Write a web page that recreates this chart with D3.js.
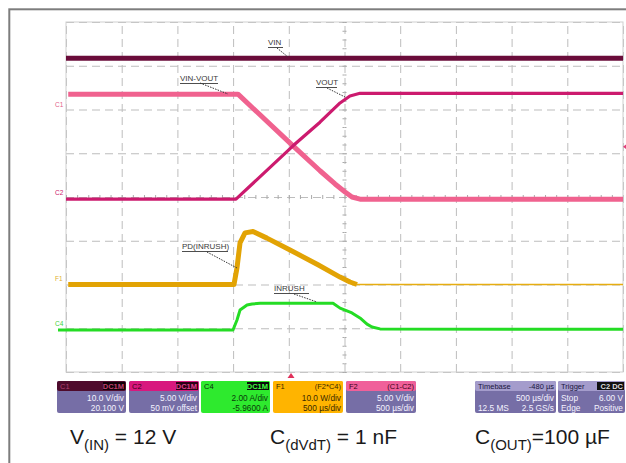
<!DOCTYPE html>
<html><head><meta charset="utf-8">
<script src="https://cdn.jsdelivr.net/npm/d3@7"></script>
<style>body{margin:0;background:#fff;} svg{display:block;font-family:"Liberation Sans",Arial,sans-serif;}</style>
</head><body><svg id="c" width="626" height="463"></svg>
<script>
// ---------- DATA (time in µs, trigger at 0; values in channel units) ----------
const vinTime = [-2020, 2980];
const vinValue = [12.0, 12.0];                       // V (C1)
const vinVoutTime = [-2000, -476, 18, 260, 395, 485, 547, 619, 2980];
const vinVoutValue = [12.0, 12.0, 6.1, 3.25, 1.74, 0.82, 0.25, 0, 0];   // V (F2 = C1-C2)
const voutTime = [-2020, -494, 18, 260, 440, 529, 619, 2980];
const voutValue = [0, 0, 6.1, 8.8, 11.0, 11.8, 12.1, 12.1];            // V (C2)
const pdTime = [-2000, -512, -485, -458, -413, -341, -216, -9, 242, 440, 529, 592];
const pdValue = [0, 0, 3.8, 9.5, 11.8, 12.1, 10.6, 7.9, 4.5, 1.7, 0.57, 0]; // W (F1)
const pdTailTime = [592, 2980];
const pdTailValue = [0, 0];
const inrushTime = [-2092, -521, -485, -458, -395, -350, -278, 377, 440, 547, 619, 682, 727, 799, 2980];
const inrushValue = [0, 0, 0.46, 0.91, 1.14, 1.19, 1.22, 1.22, 1.0, 0.78, 0.55, 0.27, 0.14, 0.05, 0.03]; // A (C4)
const triggerTime = 0;
const triggerLevel = 6.0;   // V on C2

// channel settings: units per division and zero level (divisions from centre)
const chVin = {perDiv: 10, zero: 1.97};
const chVout = {perDiv: 5, zero: -0.05};
const chF2 = {perDiv: 5, zero: -0.05};
const chPd = {perDiv: 10, zero: -2.0};
const chInrush = {perDiv: 2, zero: -3.04};

const annotationLabels = ["VIN", "VIN-VOUT", "VOUT", "PD(INRUSH)", "INRUSH"];
const channelMarkers = ["C1", "C2", "F1", "C4"];

const boxHeadLeft = ["C1", "C2", "C4", "F1", "F2", "Timebase", "Trigger"];
const boxHeadRight = ["DC1M", "DC1M", "DC1M", "(F2*C4)", "(C1-C2)", "-480 µs", "C2 DC"];
const boxLine1 = [["", "10.0 V/div"], ["", "5.00 V/div"], ["", "2.00 A/div"], ["", "10.0 W/div"], ["", "5.00 V/div"], ["", "500 µs/div"], ["Stop", "6.00 V"]];
const boxLine2 = [["", "20.100 V"], ["", "50 mV offset"], ["", "-5.9600 A"], ["", "500 µs/div"], ["", "500 µs/div"], ["12.5 MS", "2.5 GS/s"], ["Edge", "Positive"]];

// ---------- LAYOUT ----------
const svg = d3.select("#c");
const P = {l: 66, r: 623, t: 22, b: 372};
const x = d3.scaleLinear().domain([-2020, 2980]).range([P.l, P.r]);
const yDiv = d3.scaleLinear().domain([-4, 4]).range([P.b, P.t]);
const yCh = ch => v => yDiv(ch.zero + v / ch.perDiv);

// outer frame
svg.append("rect").attr("x", 9.3).attr("y", 9.3).attr("width", 700).attr("height", 600)
  .attr("fill", "none").attr("stroke", "#7d7d7d").attr("stroke-width", 2);

// grid via axes
const gridT = d3.range(-2020, 2981, 500);
const gx = svg.append("g").attr("transform", `translate(0,${P.b})`)
  .call(d3.axisBottom(x).tickValues(gridT).tickSize(-(P.b - P.t)).tickFormat(""));
const gy = svg.append("g").attr("transform", `translate(${P.l},0)`)
  .call(d3.axisLeft(yDiv).tickValues(d3.range(-4, 5)).tickSize(-(P.r - P.l)).tickFormat(""));
[gx, gy].forEach(g => {
  g.select(".domain").remove();
  g.selectAll(".tick line").attr("stroke", "#bdbdbd").attr("stroke-width", 1).attr("stroke-dasharray", "8,5");
});
// solid border of graticule
svg.append("rect").attr("x", P.l).attr("y", P.t).attr("width", P.r - P.l).attr("height", P.b - P.t)
  .attr("fill", "none").attr("stroke", "#cfcfcf").attr("stroke-width", 1);
// minor ticks on centre lines
const xc = x(480), yc = yDiv(0);
svg.append("g").attr("transform", `translate(${xc},0)`)
  .call(d3.axisLeft(yDiv).tickValues(d3.range(-4, 4.01, 0.2)).tickSize(2).tickFormat(""))
  .call(g => { g.select(".domain").remove(); g.selectAll("line").attr("stroke", "#aaa"); });
svg.append("g").attr("transform", `translate(${xc},0)`)
  .call(d3.axisRight(yDiv).tickValues(d3.range(-4, 4.01, 0.2)).tickSize(2).tickFormat(""))
  .call(g => { g.select(".domain").remove(); g.selectAll("line").attr("stroke", "#aaa"); });
const xMinor = d3.range(0, 50).map(i => -2020 + i * 100);
svg.append("g").attr("transform", `translate(0,${yc})`)
  .call(d3.axisTop(x).tickValues(xMinor).tickSize(2).tickFormat(""))
  .call(g => { g.select(".domain").remove(); g.selectAll("line").attr("stroke", "#aaa"); });
svg.append("g").attr("transform", `translate(0,${yc})`)
  .call(d3.axisBottom(x).tickValues(xMinor).tickSize(2).tickFormat(""))
  .call(g => { g.select(".domain").remove(); g.selectAll("line").attr("stroke", "#aaa"); });

// traces
function trace(times, vals, ch, color, w) {
  const yf = yCh(ch);
  const line = d3.line().x(d => x(d[0])).y(d => yf(d[1]));
  svg.append("path").datum(times.map((t, i) => [t, vals[i]]))
    .attr("d", line).attr("fill", "none").attr("stroke", color)
    .attr("stroke-width", w).attr("stroke-linejoin", "round");
}
trace(vinTime, vinValue, chVin, "#6a0c3a", 5);
trace(vinVoutTime, vinVoutValue, chF2, "#f0628f", 5);
trace(voutTime, voutValue, chVout, "#cc1a6e", 3.2);
trace(pdTailTime, pdTailValue, chPd, "#e6ad10", 1.4);
trace(pdTime, pdValue, chPd, "#e2a304", 5);
trace(inrushTime, inrushValue, chInrush, "#24dc24", 3);

// channel ground markers
const markerY = [yCh(chVin)(0), yCh(chVout)(0), yCh(chPd)(0), yCh(chInrush)(0)];
const markerColor = ["#e2608a", "#cc1a6e", "#e0b030", "#40d040"];
channelMarkers.forEach((m, i) => {
  svg.append("text").attr("x", 55).attr("y", markerY[i] - 4).attr("font-size", 6.5)
    .attr("fill", markerColor[i]).text(m);
});

// trigger markers
const tx = x(triggerTime);
svg.append("path").attr("d", `M${tx - 3.5},${P.b + 6}L${tx},${P.b + 1}L${tx + 3.5},${P.b + 6}Z`).attr("fill", "#e0305a");
const ty = yCh(chVout)(triggerLevel);
svg.append("path").attr("d", `M${P.r + 4},${ty - 3}L${P.r},${ty}L${P.r + 4},${ty + 3}Z`).attr("fill", "#e0407a");

// annotations (label position, underline width, leader end)
const annLayout = [
  {x: 268, y: 45, w: 15, lx0: 277, ly0: 48, lx1: 288, ly1: 57},
  {x: 180, y: 81, w: 38, lx0: 200, ly0: 83, lx1: 228, ly1: 94},
  {x: 316, y: 85, w: 21, lx0: 327, ly0: 88, lx1: 345, ly1: 97},
  {x: 182, y: 249, w: 46, lx0: 207, ly0: 252, lx1: 237, ly1: 268},
  {x: 274, y: 291, w: 35, lx0: 294, ly0: 294, lx1: 317, ly1: 302}
];
annotationLabels.forEach((s, i) => {
  const a = annLayout[i];
  svg.append("text").attr("x", a.x).attr("y", a.y).attr("font-size", 8).attr("fill", "#3a3a3a").text(s);
  svg.append("line").attr("x1", a.x).attr("x2", a.x + a.w).attr("y1", a.y + 2.5).attr("y2", a.y + 2.5)
    .attr("stroke", "#3a3a3a").attr("stroke-width", 0.9);
  svg.append("line").attr("x1", a.lx0).attr("y1", a.ly0).attr("x2", a.lx1).attr("y2", a.ly1)
    .attr("stroke", "#333").attr("stroke-width", 1).attr("stroke-dasharray", "1.5,1.2");
});

// info boxes
const boxX = [57, 129, 201, 273, 346, 475, 558];
const boxW = [69, 70, 69, 70, 70, 81, 67];
const headFill = ["#4e0b2c", "#d8187e", "#2eea2e", "#ffb400", "#f0609a", "#a49ccc", "#a49ccc"];
const bodyFill = ["#766ea6", "#766ea6", "#2eea2e", "#ffb400", "#766ea6", "#766ea6", "#766ea6"];
const headText = ["#b04070", "#3a0018", "#0a2a0a", "#3a2800", "#3a0018", "#1a1640", "#1a1640"];
const tagFill = ["#120008", "#2a0014", "#0a0a0a", null, null, null, "#111"];
const tagText = ["#c04070", "#e04090", "#40ff40", null, null, null, "#ddd"];
const bodyText = ["#f4f2ff", "#f4f2ff", "#0a3a0a", "#3a2a00", "#f4f2ff", "#f4f2ff", "#f4f2ff"];
const by = 381, bh = 32, hh = 10;
boxX.forEach((bx, i) => {
  const g = svg.append("g");
  g.append("rect").attr("x", bx).attr("y", by).attr("width", boxW[i]).attr("height", bh).attr("rx", 2).attr("fill", bodyFill[i]);
  g.append("rect").attr("x", bx).attr("y", by).attr("width", boxW[i]).attr("height", hh).attr("rx", 2).attr("fill", headFill[i]);
  g.append("text").attr("x", bx + 3).attr("y", by + 8).attr("font-size", 7.5).attr("fill", headText[i]).text(boxHeadLeft[i]);
  if (tagFill[i]) {
    const tw = boxHeadRight[i].length * 5 + 2;
    g.append("rect").attr("x", bx + boxW[i] - tw - 1).attr("y", by + 1).attr("width", tw).attr("height", hh - 2).attr("fill", tagFill[i]);
    g.append("text").attr("x", bx + boxW[i] - 2).attr("y", by + 8).attr("text-anchor", "end").attr("font-size", 7.5)
      .attr("font-weight", "bold").attr("fill", tagText[i]).text(boxHeadRight[i]);
  } else {
    g.append("text").attr("x", bx + boxW[i] - 2).attr("y", by + 8).attr("text-anchor", "end").attr("font-size", 7.5)
      .attr("fill", headText[i]).text(boxHeadRight[i]);
  }
  [boxLine1[i], boxLine2[i]].forEach((ln, k) => {
    const yy = by + 19.5 + k * 10;
    if (ln[0]) g.append("text").attr("x", bx + 3).attr("y", yy).attr("font-size", 8.3).attr("fill", bodyText[i]).text(ln[0]);
    g.append("text").attr("x", bx + boxW[i] - 2).attr("y", yy).attr("text-anchor", "end").attr("font-size", 8.3)
      .attr("fill", bodyText[i]).text(ln[1]);
  });
});

// captions
const captions = [
  {main: "C", sub: "(dVdT)", rest: " = 1 nF", x: 270},
  {main: "V", sub: "(IN)", rest: " = 12 V", x: 70},
  {main: "C", sub: "(OUT)", rest: "=100 µF", x: 475}
];
captions.forEach(c => {
  const t = svg.append("text").attr("x", c.x).attr("y", 444).attr("font-size", 21).attr("fill", "#1a1a1a");
  t.append("tspan").text(c.main);
  t.append("tspan").attr("font-size", 15).attr("dy", 6).text(c.sub);
  t.append("tspan").attr("dy", -6).text(c.rest);
});
</script></body></html>
